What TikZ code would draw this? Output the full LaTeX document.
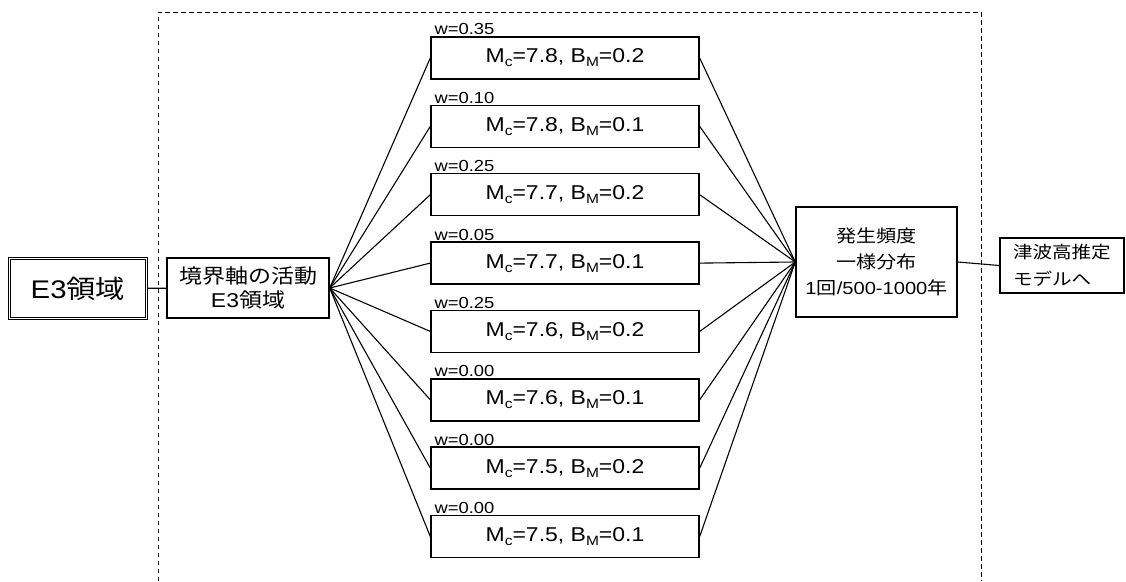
\documentclass[tikz,border=0pt]{standalone}
\usepackage{fontspec}
\setmainfont{Liberation Sans}[FakeStretch=1.15]
\newfontfamily\jp{Noto Sans CJK JP}[FakeStretch=1.15]
\newcommand{\sbs}[1]{\raisebox{-4pt}{\fontsize{13.5}{13.5}\selectfont #1}}
\tikzset{
  box/.style={draw, line width=1.4pt, inner sep=0pt, align=center},
  mbox/.style={box, minimum width=268pt, minimum height=42pt, font=\fontsize{20}{24}\selectfont},
  wlab/.style={anchor=south west, inner sep=1pt, xshift=3pt, font=\fontsize{16}{16}\selectfont},
  link/.style={line width=1.1pt},
  frame/.style={line width=0.9pt, dash pattern=on 4.5pt off 3.5pt}
}
\begin{document}
\begin{tikzpicture}[x=1pt, y=-1pt]
    \useasboundingbox (0,0) rectangle (1126,581);

    % dashed frame
    \draw[frame] (158,581) -- (158,12) -- (981,12) -- (981,581);

    \node[box, double, double distance=1.8pt, line width=1pt, minimum width=137pt, minimum height=60pt,
          font=\fontsize{25.5}{30}\selectfont] (region) at (78,288.5) {E3{\jp 領域}};
    \node[box, minimum width=162pt, minimum height=60pt, font=\fontsize{20}{24}\selectfont]
          (plate) at (248,288) {{\jp 境界軸の活動}\\E3{\jp 領域}};

    \node[mbox] (m1) at (565,58) {M\sbs{c}=7.8, B\sbs{M}=0.2};
    \node[mbox] (m2) at (565,126.4) {M\sbs{c}=7.8, B\sbs{M}=0.1};
    \node[mbox] (m3) at (565,194.7) {M\sbs{c}=7.7, B\sbs{M}=0.2};
    \node[mbox] (m4) at (565,263.1) {M\sbs{c}=7.7, B\sbs{M}=0.1};
    \node[mbox] (m5) at (565,331.4) {M\sbs{c}=7.6, B\sbs{M}=0.2};
    \node[mbox] (m6) at (565,399.8) {M\sbs{c}=7.6, B\sbs{M}=0.1};
    \node[mbox] (m7) at (565,468.1) {M\sbs{c}=7.5, B\sbs{M}=0.2};
    \node[mbox] (m8) at (565,536.5) {M\sbs{c}=7.5, B\sbs{M}=0.1};

    \node[wlab] (w1) at (m1.north west) {w=0.35};
    \node[wlab] (w2) at (m2.north west) {w=0.10};
    \node[wlab] (w3) at (m3.north west) {w=0.25};
    \node[wlab] (w4) at (m4.north west) {w=0.05};
    \node[wlab] (w5) at (m5.north west) {w=0.25};
    \node[wlab] (w6) at (m6.north west) {w=0.00};
    \node[wlab] (w7) at (m7.north west) {w=0.00};
    \node[wlab] (w8) at (m8.north west) {w=0.00};

    \node[box, minimum width=161pt, minimum height=110pt, font=\fontsize{17.5}{26}\selectfont]
          (freq) at (876.5,262) {{\jp 発生頻度}\\{\jp 一様分布}\\1{\jp 回}/500-1000{\jp 年}};
    \node[box, align=left, minimum width=124pt, minimum height=55pt, text width=98pt,
          font=\jp\fontsize{17}{27}\selectfont] (tsunami) at (1062,265.5) {津波高推定\\モデルへ};

    \draw[link] (region) -- (plate);
    \draw[link] (plate.east) -- (m1.west);
    \draw[link] (plate.east) -- (m2.west);
    \draw[link] (plate.east) -- (m3.west);
    \draw[link] (plate.east) -- (m4.west);
    \draw[link] (plate.east) -- (m5.west);
    \draw[link] (plate.east) -- (m6.west);
    \draw[link] (plate.east) -- (m7.west);
    \draw[link] (plate.east) -- (m8.west);
    \draw[link] (m1.east) -- (freq.west);
    \draw[link] (m2.east) -- (freq.west);
    \draw[link] (m3.east) -- (freq.west);
    \draw[link] (m4.east) -- (freq.west);
    \draw[link] (m5.east) -- (freq.west);
    \draw[link] (m6.east) -- (freq.west);
    \draw[link] (m7.east) -- (freq.west);
    \draw[link] (m8.east) -- (freq.west);
    \draw[link] (freq.east) -- (tsunami.west);
\end{tikzpicture}
\end{document}
